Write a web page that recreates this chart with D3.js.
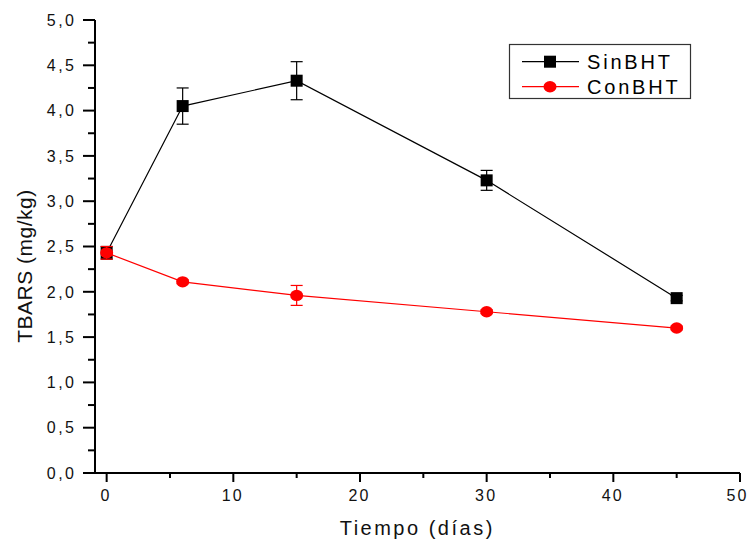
<!DOCTYPE html>
<html>
<head>
<meta charset="utf-8">
<script src="https://cdn.jsdelivr.net/npm/d3@7"></script>
<style>
  html, body { margin: 0; padding: 0; background: #fff; }
  svg { display: block; }
  text { font-family: "Liberation Sans", Arial, sans-serif; }
</style>
</head>
<body>
<svg id="chart" width="749" height="539"></svg>
<script>
// ---- data ----
const days = [0, 6, 15, 30, 45];
const sinBHT = [2.43, 4.05, 4.33, 3.23, 1.93];
const sinErr = [0.07, 0.20, 0.21, 0.11, 0.03];
const conBHT = [2.43, 2.11, 1.96, 1.78, 1.60];
const conErr = [0.07, 0.02, 0.11, 0.02, 0.02];
const seriesNames = ["SinBHT", "ConBHT"];
const yTicks = [0, 0.5, 1, 1.5, 2, 2.5, 3, 3.5, 4, 4.5, 5];
const yMinor = [0.25, 0.75, 1.25, 1.75, 2.25, 2.75, 3.25, 3.75, 4.25, 4.75];
const xTicks = [0, 10, 20, 30, 40, 50];
const xMinor = [5, 15, 25, 35, 45];
const xTitle = "Tiempo (días)";
const yTitle = "TBARS (mg/kg)";

const svg = d3.select("#chart");
const x = d3.scaleLinear().domain([-0.92, 50]).range([95, 740]);
const y = d3.scaleLinear().domain([0, 5]).range([473, 20]);
const fmt = v => d3.format(".1f")(v).replace(".", ",");

// ---- axes ----
const yAxis = svg.append("g").attr("transform", `translate(${x.range()[0]},0)`);
yAxis.append("line").attr("x1", 0).attr("x2", 0).attr("y1", y(0) + 1).attr("y2", y(5))
  .attr("stroke", "#000").attr("stroke-width", 2);
yAxis.selectAll(".maj").data(yTicks).join("line")
  .attr("x1", -12).attr("x2", 0).attr("y1", d => y(d)).attr("y2", d => y(d))
  .attr("stroke", "#000").attr("stroke-width", 2);
yAxis.selectAll(".min").data(yMinor).join("line")
  .attr("x1", -7).attr("x2", 0).attr("y1", d => y(d)).attr("y2", d => y(d))
  .attr("stroke", "#000").attr("stroke-width", 2);
yAxis.selectAll("text").data(yTicks).join("text")
  .attr("x", -21 + 2.5).attr("y", d => y(d)).attr("dy", "0.36em")
  .attr("text-anchor", "end").attr("font-size", 16).attr("letter-spacing", 2.5)
  .attr("fill", "#111").text(fmt);

const xAxis = svg.append("g").attr("transform", `translate(0,${y.range()[0]})`);
xAxis.append("line").attr("x1", x.range()[0]).attr("x2", x.range()[1]).attr("y1", 0).attr("y2", 0)
  .attr("stroke", "#000").attr("stroke-width", 2);
xAxis.selectAll(".maj").data(xTicks).join("line")
  .attr("x1", d => x(d)).attr("x2", d => x(d)).attr("y1", 0).attr("y2", 9)
  .attr("stroke", "#000").attr("stroke-width", 2);
xAxis.selectAll(".min").data(xMinor).join("line")
  .attr("x1", d => x(d)).attr("x2", d => x(d)).attr("y1", 0).attr("y2", 5)
  .attr("stroke", "#000").attr("stroke-width", 2);
xAxis.selectAll("text").data(xTicks).join("text")
  .attr("x", (d, i) => x(d) - (i === xTicks.length - 1 ? 2.5 : 0.5)).attr("y", 28)
  .attr("text-anchor", "middle").attr("font-size", 16).attr("letter-spacing", 2.2)
  .attr("fill", "#111").text(d => d);

// titles
svg.append("text").attr("x", 416 + 1.25).attr("y", 535)
  .attr("text-anchor", "middle").attr("font-size", 20).attr("letter-spacing", 2.5)
  .attr("fill", "#111").text(xTitle);
svg.append("text").attr("transform", "translate(31.5,266) rotate(-90)")
  .attr("text-anchor", "middle").attr("font-size", 21).attr("letter-spacing", 0.5)
  .attr("fill", "#111").text(yTitle);

// ---- series ----
function drawSeries(vals, errs, color, shape) {
  const g = svg.append("g");
  const pts = days.map((d, i) => ({ x: d, y: vals[i], e: errs[i] }));
  g.append("path").datum(pts)
    .attr("d", d3.line().x(d => x(d.x)).y(d => y(d.y)))
    .attr("fill", "none").attr("stroke", color).attr("stroke-width", 1.2);
  const eb = g.selectAll(".eb").data(pts).join("g").attr("stroke", color).attr("stroke-width", 1.2);
  eb.append("line").attr("x1", d => x(d.x)).attr("x2", d => x(d.x))
    .attr("y1", d => y(d.y - d.e)).attr("y2", d => y(d.y + d.e));
  eb.append("line").attr("x1", d => x(d.x) - 6).attr("x2", d => x(d.x) + 6)
    .attr("y1", d => y(d.y - d.e)).attr("y2", d => y(d.y - d.e));
  eb.append("line").attr("x1", d => x(d.x) - 6).attr("x2", d => x(d.x) + 6)
    .attr("y1", d => y(d.y + d.e)).attr("y2", d => y(d.y + d.e));
  if (shape === "square") {
    g.selectAll(".m").data(pts).join("rect")
      .attr("x", d => x(d.x) - 6).attr("y", d => y(d.y) - 6)
      .attr("width", 12).attr("height", 12).attr("fill", color);
  } else {
    g.selectAll(".m").data(pts).join("ellipse")
      .attr("cx", d => x(d.x)).attr("cy", d => y(d.y))
      .attr("rx", 6.5).attr("ry", 5.7).attr("fill", color);
  }
}
drawSeries(sinBHT, sinErr, "#000", "square");
drawSeries(conBHT, conErr, "#ff0000", "circle");

// ---- legend ----
const lg = svg.append("g");
lg.append("rect").attr("x", 509.5).attr("y", 44.5).attr("width", 181).attr("height", 54)
  .attr("fill", "#fff").attr("stroke", "#333").attr("stroke-width", 1.2);
const rows = [
  { name: seriesNames[0], color: "#000", shape: "square", cy: 61.7 },
  { name: seriesNames[1], color: "#ff0000", shape: "circle", cy: 86.7 }
];
rows.forEach(r => {
  lg.append("line").attr("x1", 522).attr("x2", 579).attr("y1", r.cy).attr("y2", r.cy)
    .attr("stroke", r.color).attr("stroke-width", 1.2);
  if (r.shape === "square") {
    lg.append("rect").attr("x", 550 - 6).attr("y", r.cy - 6).attr("width", 12).attr("height", 12).attr("fill", r.color);
  } else {
    lg.append("ellipse").attr("cx", 550).attr("cy", r.cy).attr("rx", 6.5).attr("ry", 5.7).attr("fill", r.color);
  }
  lg.append("text").attr("x", 587).attr("y", r.cy + 7)
    .attr("font-size", 20).attr("letter-spacing", 2.8).attr("fill", "#000").text(r.name);
});
</script>
</body>
</html>
